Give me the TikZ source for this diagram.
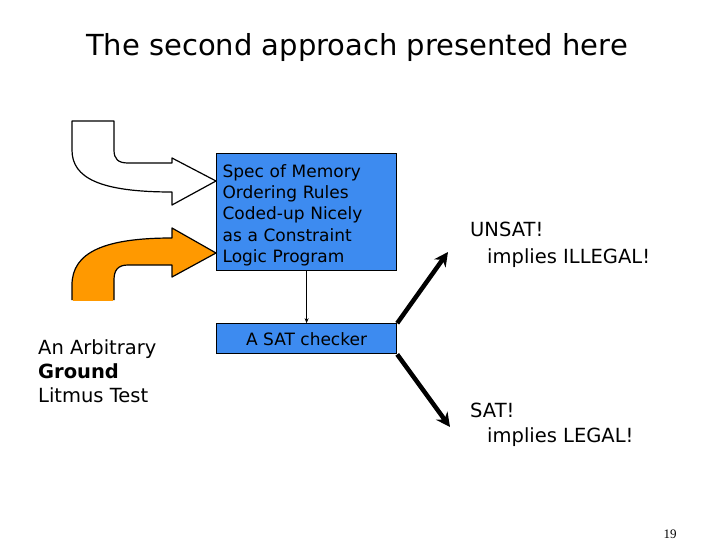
\documentclass[tikz,border=0pt]{standalone}
\usepackage{fontspec}
\setmainfont{DejaVu Sans}
\newfontfamily\numfont{Liberation Serif}
\usetikzlibrary{arrows.meta, positioning, calc}
\definecolor{boxblue}{RGB}{61,139,240}
\definecolor{bendorange}{RGB}{255,153,0}
\tikzset{
  bluebox/.style={draw, line width=1.2pt, fill=boxblue, minimum width=180pt, inner sep=6pt},
  bentarrow/.style={draw, line width=1.2pt, line join=round},
  thinarrow/.style={-{Stealth[length=5pt, width=4pt]}, line width=0.8pt},
  fatarrow/.style={-{Stealth[length=14pt, width=14pt]}, line width=4.5pt},
  txt/.style={font=\fontsize{17}{21.3}\selectfont, align=left, inner sep=0pt},
  bigtxt/.style={font=\fontsize{19.5}{24}\selectfont, align=left, inner sep=0pt},
}

\begin{document}
\begin{tikzpicture}[x=1pt, y=-1pt]
  \useasboundingbox (0,0) rectangle (720,540);
  \node[font=\fontsize{29}{33}\selectfont] (title) at (357,48) {The second approach presented here};

  % the two boxes
  \node[bluebox, txt, minimum height=117pt, text width=168pt, inner sep=6pt, inner ysep=2pt, anchor=north west] (spec) at (216,153)
    {\rule{0pt}{19pt}Spec of Memory\\Ordering Rules\\Coded-up Nicely\\as a Constraint\\Logic Program};
  \node[bluebox, txt, align=center, minimum height=30pt, inner sep=0pt, below=52pt of spec.south] (sat) {A SAT checker};
  \draw[thinarrow] (spec) -- (sat);

  % bent arrows into the spec box
  \draw[bentarrow, fill=white] (72,121) -- (114,121) -- (114,150)
    .. controls (114,159) and (118,163) .. (128,163) -- (172,163) -- (172,158)
    -- (spec.west |- 0,181) -- (172,205) -- (172,192)
    .. controls (100,192) and (72,178) .. (72,150) -- cycle;
  \draw[bentarrow, fill=bendorange] (72,300) -- (72,285)
    .. controls (72,252) and (105,238) .. (172,238) -- (172,228)
    -- (spec.west |- 0,253) -- (172,277) -- (172,265) -- (128,265)
    .. controls (118,265) and (114,270) .. (114,280) -- (114,300);
  \fill[bendorange] (73,299) rectangle (113,301);

  \node[bigtxt, anchor=north west] (test) at (38,339) {An Arbitrary\\\textbf{Ground}\\Litmus Test};

  % outcomes
  \coordinate (up) at (448,252);
  \coordinate (down) at (450,427);
  \draw[fatarrow] (sat.north east) -- (up);
  \draw[fatarrow] (sat.south east) -- (down);
  \node[bigtxt, anchor=north west, font=\fontsize{19.5}{27}\selectfont] (unsat) at (470,222) {UNSAT!\\\hspace{17pt}implies ILLEGAL!};
  \node[bigtxt, anchor=north west, font=\fontsize{19.5}{25}\selectfont] (legal) at (470,403) {SAT!\\\hspace{17pt}implies LEGAL!};

  \node[font=\numfont\fontsize{13}{15}\selectfont] (page) at (670,534) {19};
\end{tikzpicture}
\end{document}
